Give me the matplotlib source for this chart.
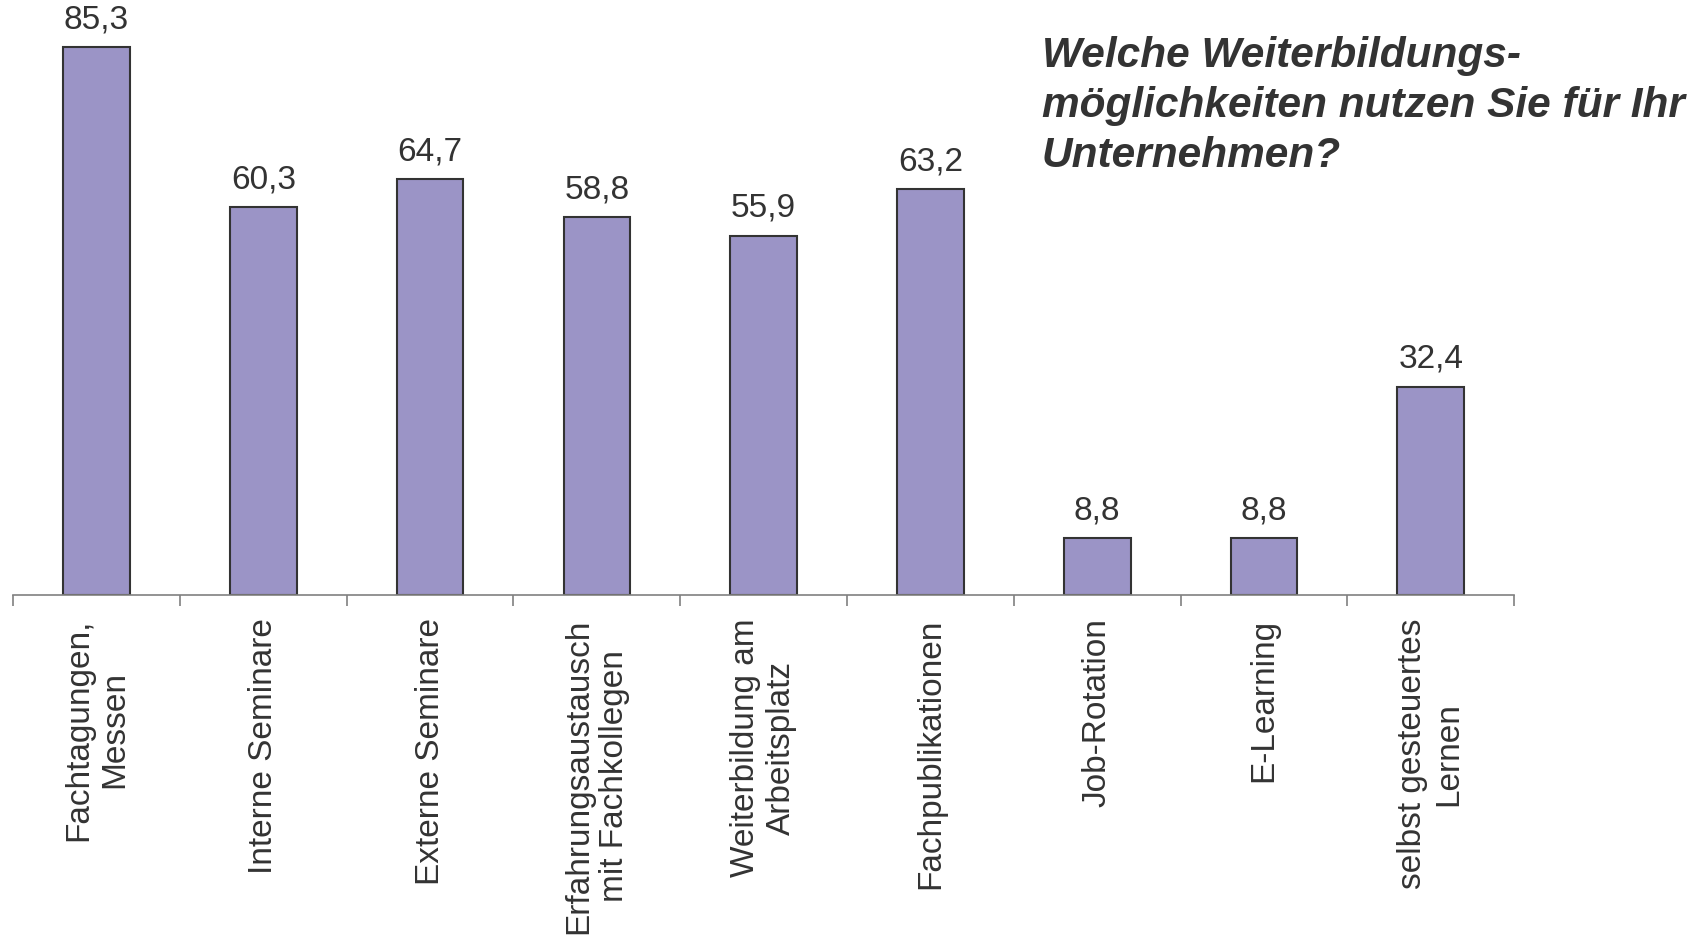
import numpy as np
import matplotlib
matplotlib.use('Agg')
import matplotlib.pyplot as plt

# Daten
kategorien = [
    'Fachtagungen,\nMessen',
    'Interne Seminare',
    'Externe Seminare',
    'Erfahrungsaustausch\nmit Fachkollegen',
    'Weiterbildung am\nArbeitsplatz',
    'Fachpublikationen',
    'Job-Rotation',
    'E-Learning',
    'selbst gesteuertes\nLernen',
]
werte = [85.3, 60.3, 64.7, 58.8, 55.9, 63.2, 8.8, 8.8, 32.4]

titel = 'Welche Weiterbildungs-\nmöglichkeiten nutzen Sie für Ihr\nUnternehmen?'

plt.rcParams['font.family'] = ['Liberation Sans', 'DejaVu Sans']
textfarbe = '#333333'

fig = plt.figure(figsize=(17.08, 9.42), dpi=100)
ax = fig.add_axes([0.0077, 0.3686, 0.8788, 0.6137])

x = np.arange(len(werte))
balken = ax.bar(x, werte, width=0.4, color='#9B94C6', edgecolor='#333333', linewidth=1.5, zorder=2)

# Werte über den Balken (mit Komma)
for xi, w in zip(x, werte):
    ax.annotate(f'{w:.1f}'.replace('.', ','), (xi, w), xytext=(0, 8.5), textcoords='offset points',
                ha='center', va='bottom', fontsize=24, color=textfarbe, annotation_clip=False)

ax.set_xlim(-0.5, len(werte) - 0.5)
ax.set_ylim(0, 90)

# Beschriftungen mittig, Striche an den Grenzen
ax.set_xticks(x)
ax.set_xticklabels(kategorien, rotation=90, fontsize=24, color=textfarbe, multialignment='center')
ax.tick_params(axis='x', which='major', length=0, pad=17)
ax.set_xticks(np.arange(-0.5, len(werte), 1), minor=True)
ax.tick_params(axis='x', which='minor', length=8, width=1.2, color='#808080', direction='out')

ax.set_yticks([])
for s in ['left', 'right', 'top']:
    ax.spines[s].set_visible(False)
ax.spines['bottom'].set_color('#808080')
ax.spines['bottom'].set_linewidth(1.2)

fig.text(0.610, 0.962, titel, fontsize=30.5, fontweight='bold', fontstyle='italic',
         color=textfarbe, ha='left', va='top', linespacing=1.32)

plt.savefig('out.png', dpi=100)
plt.close()
